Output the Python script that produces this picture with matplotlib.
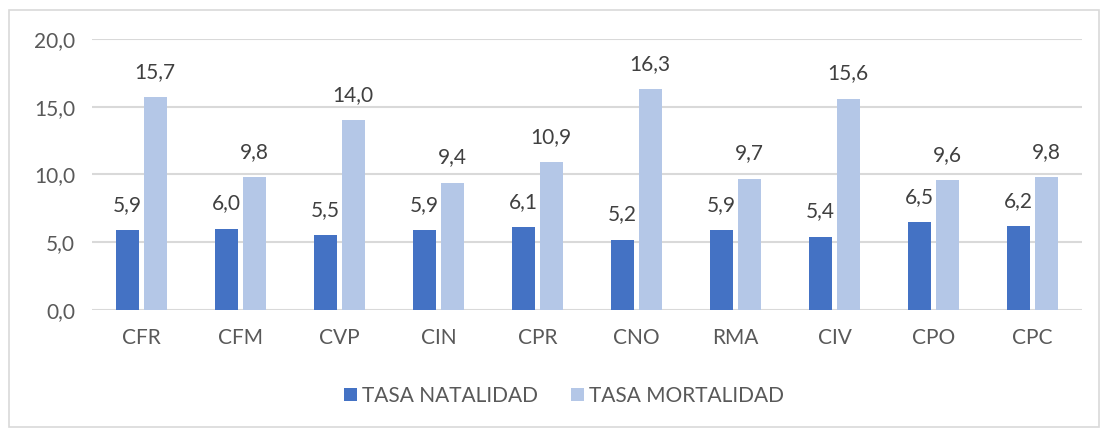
import matplotlib
matplotlib.use("Agg")
import matplotlib.pyplot as plt
import numpy as np
from matplotlib.patches import Rectangle

categories = ["CFR", "CFM", "CVP", "CIN", "CPR", "CNO", "RMA", "CIV", "CPO", "CPC"]
natalidad = [5.9, 6.0, 5.5, 5.9, 6.1, 5.2, 5.9, 5.4, 6.5, 6.2]
mortalidad = [15.7, 9.8, 14.0, 9.4, 10.9, 16.3, 9.7, 15.6, 9.6, 9.8]
yticks = [0, 5, 10, 15, 20]

plt.rcParams['font.family'] = ['Lato', 'DejaVu Sans']
txt = '#404040'
fs = 15
fig = plt.figure(figsize=(11, 4.28), dpi=100)
ax = fig.add_axes([0.0836, 0.2757, 0.9, 0.6332])

x = np.arange(len(categories))
w = 0.23
off = 0.14
b1 = ax.bar(x - off, natalidad, w, color='#4472C4', label='TASA NATALIDAD', zorder=3)
b2 = ax.bar(x + off, mortalidad, w, color='#B4C7E7', label='TASA MORTALIDAD', zorder=3)

for bars, vals in ((b1, natalidad), (b2, mortalidad)):
    for r, v in zip(bars, vals):
        ax.annotate(f"{v:.1f}".replace('.', ','), (r.get_x() + r.get_width() / 2, v),
                    xytext=(0, 11), textcoords='offset points', ha='center', va='bottom',
                    fontsize=fs, color=txt)

ax.set_xlim(-0.5, len(categories) - 0.5)
ax.set_ylim(0, 20)
ax.set_yticks(yticks)
ax.set_yticklabels([f"{t:.1f}".replace('.', ',') for t in yticks], fontsize=fs, color='#595959')
ax.set_xticks(x)
ax.set_xticklabels(categories, fontsize=fs, color='#595959')
ax.tick_params(axis='x', length=0, pad=13)
ax.tick_params(axis='y', length=0, pad=12)
ax.grid(axis='y', color='#d9d9d9', linewidth=1.5, zorder=0)
for s in ax.spines.values():
    s.set_visible(False)

fig.legend(handles=[b1, b2], loc='center', bbox_to_anchor=(564 / 1100, 1 - 396 / 428), ncol=2,
           frameon=False, fontsize=fs, labelcolor='#595959', handlelength=0.6,
           handleheight=0.6, handletextpad=0.25, columnspacing=1.6)

fig.patches.append(Rectangle((9 / 1100, 0.002), 1 - 9 / 1100 - 0.001, 1 - 10 / 428 - 0.002,
                             transform=fig.transFigure, fill=False, edgecolor='#d9d9d9',
                             linewidth=1.2))

fig.savefig("out.png", dpi=100)
